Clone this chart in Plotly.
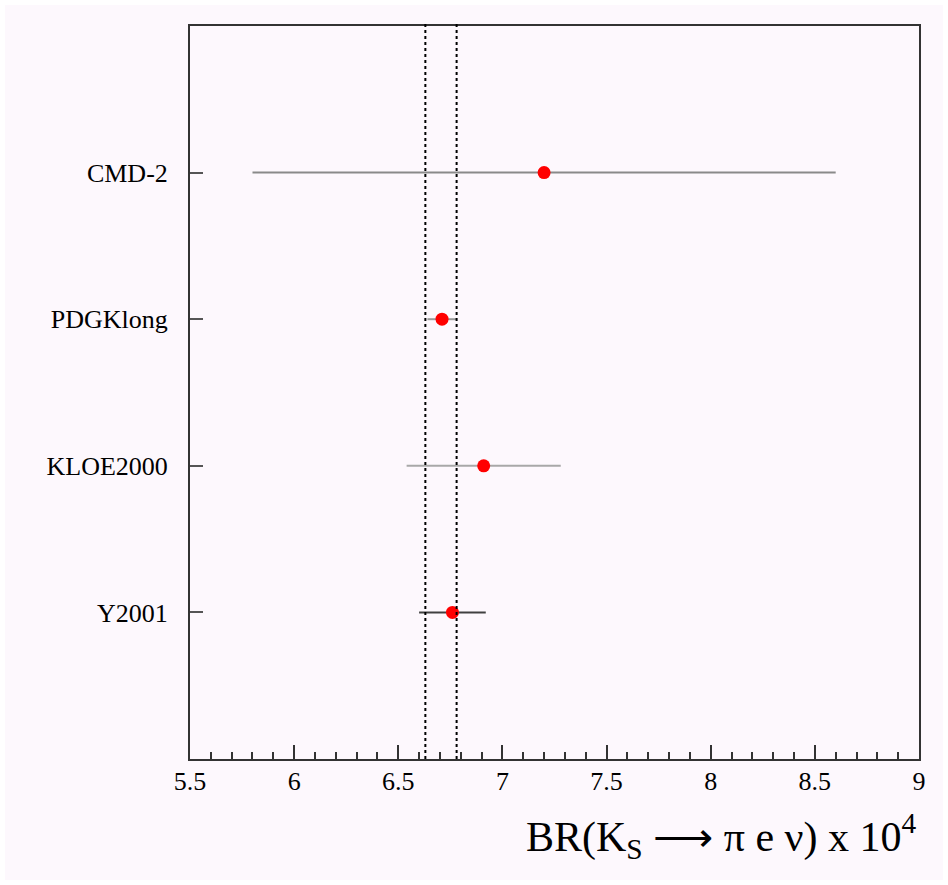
import plotly.graph_objects as go

experiments = ["CMD-2", "PDGKlong", "KLOE2000", "Y2001"]
positions = [4, 3, 2, 1]
br_values = [7.20, 6.71, 6.91, 6.76]
br_errors = [1.40, 0.07, 0.37, 0.16]
band_edges = [6.63, 6.78]
x_ticks = [5.5, 6, 6.5, 7, 7.5, 8, 8.5, 9]
x_tick_labels = ["5.5", "6", "6.5", "7", "7.5", "8", "8.5", "9"]

bar_colors = ["#8a8a8a", "#9a9a9a", "#a8a8a8", "#404040"]
serif = "Liberation Serif, Times New Roman, serif"
bg = "#fdf8fd"

fig = go.Figure()
for name, y, v, e, c in zip(experiments, positions, br_values, br_errors, bar_colors):
    fig.add_trace(go.Scatter(
        x=[v], y=[y], mode="markers", name=name,
        marker=dict(color="#ff0000", size=13, line=dict(width=0)),
        error_x=dict(type="data", array=[e], symmetric=True, width=0,
                     thickness=2, color=c),
        showlegend=False,
    ))

for xv in band_edges:
    fig.add_shape(type="line", xref="x", yref="paper", x0=xv, x1=xv,
                  y0=0, y1=1.004, line=dict(color="black", width=2, dash="dot"))

W, H = 948, 885
ml, mr, mt, mb = 190, 29, 26, 126
pw, ph = W - ml - mr, H - mt - mb
# white outer border
fig.add_shape(type="rect", xref="paper", yref="paper",
              x0=-ml / pw, x1=1 + mr / pw, y0=-mb / ph, y1=1 + mt / ph,
              line=dict(color="white", width=10), fillcolor="rgba(0,0,0,0)",
              layer="above")

fig.add_annotation(
    xref="paper", yref="paper", x=1.0, y=-0.063, xanchor="right", yanchor="top",
    text="BR(K<sub>S</sub> \u27f6 \u03c0 e \u03bd) x 10<sup>4</sup>",
    showarrow=False, font=dict(family=serif, size=42, color="black"),
)

fig.update_layout(
    width=W, height=H,
    margin=dict(l=ml, r=mr, t=mt, b=mb),
    paper_bgcolor=bg, plot_bgcolor=bg,
    font=dict(family=serif, color="black"),
    xaxis=dict(
        range=[5.5, 9], tickvals=x_ticks, ticktext=x_tick_labels,
        ticks="inside", ticklen=14, tickwidth=1.5, tickcolor="#333",
        minor=dict(dtick=0.1, tick0=5.5, ticks="inside", ticklen=7,
                   tickwidth=1.5, tickcolor="#333", showgrid=False),
        showgrid=False, zeroline=False,
        showline=True, linecolor="#333", linewidth=2, mirror=True,
        tickfont=dict(family=serif, size=26, color="black"),
        ticklabelstandoff=-2,
    ),
    yaxis=dict(
        range=[0, 5], tickvals=positions, ticktext=experiments,
        ticks="inside", ticklen=13, tickwidth=1.5, tickcolor="#555",
        showgrid=False, zeroline=False,
        showline=True, linecolor="#333", linewidth=2, mirror=True,
        tickfont=dict(family=serif, size=26, color="black"),
        ticklabelstandoff=15,
    ),
)

fig.write_html("out.html")
